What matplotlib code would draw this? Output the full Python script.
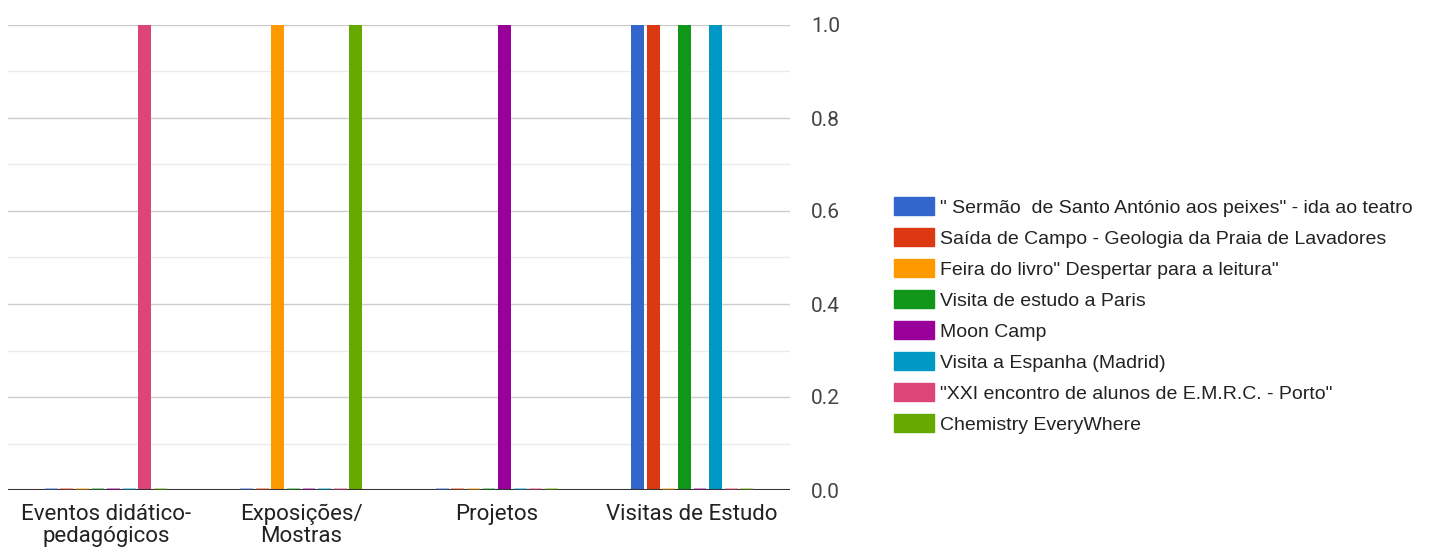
import matplotlib
matplotlib.use("Agg")
import matplotlib.pyplot as plt
import numpy as np
from matplotlib.patches import Patch

plt.rcParams['font.family'] = ['Roboto', 'DejaVu Sans']

categories = ["Eventos didático-\npedagógicos", "Exposições/\nMostras", "Projetos", "Visitas de Estudo"]
series_names = [
    "\" Sermão  de Santo António aos peixes\" - ida ao teatro",
    "Saída de Campo - Geologia da Praia de Lavadores",
    "Feira do livro\" Despertar para a leitura\"",
    "Visita de estudo a Paris",
    "Moon Camp",
    "Visita a Espanha (Madrid)",
    "\"XXI encontro de alunos de E.M.R.C. - Porto\"",
    "Chemistry EveryWhere",
]
sermao = [0, 0, 0, 1]
saida_campo = [0, 0, 0, 1]
feira_livro = [0, 1, 0, 0]
paris = [0, 0, 0, 1]
moon_camp = [0, 0, 1, 0]
espanha = [0, 0, 0, 1]
emrc = [1, 0, 0, 0]
chemistry = [0, 1, 0, 0]
series_values = [sermao, saida_campo, feira_livro, paris, moon_camp, espanha, emrc, chemistry]
colors = ["#3366cc", "#dc3912", "#ff9900", "#109618", "#990099", "#0099c6", "#dd4477", "#66aa00"]
yticks = [0.0, 0.2, 0.4, 0.6, 0.8, 1.0]

W, H = 1435, 554
fig = plt.figure(figsize=(W / 100, H / 100), dpi=100)
ax = fig.add_axes([8 / W, 64 / H, (790 - 8) / W, (490 - 25) / H])

x = np.arange(len(categories))
n = len(series_values)
slot = 0.0795
bw = 0.066
for i, (vals, c) in enumerate(zip(series_values, colors)):
    offs = (i - (n - 1) / 2) * slot
    for xi, v in zip(x, vals):
        if v > 0:
            ax.bar(xi + offs, v, width=bw, color=c, linewidth=0, zorder=3)
        else:
            ax.bar(xi + offs, 0.004, width=bw, color=c, alpha=0.4, linewidth=0, zorder=5)

ax.set_xlim(-0.5, len(categories) - 0.5)
ax.set_ylim(0, 1.0)
for s in ax.spines.values():
    s.set_visible(False)
ax.set_yticks(yticks)
ax.set_yticks(np.arange(0.1, 1.0, 0.2), minor=True)
ax.yaxis.tick_right()
ax.tick_params(axis='y', which='both', length=0, pad=15, labelsize=15, labelcolor="#444444")
ax.set_yticklabels([f"{t:.1f}" for t in yticks])
ax.grid(axis='y', which='major', color="#cccccc", linewidth=1, zorder=0)
ax.grid(axis='y', which='minor', color="#ebebeb", linewidth=1, zorder=0)
ax.axhline(0, color="#333333", linewidth=1.5, zorder=4)
ax.set_xticks(x)
ax.set_xticklabels(categories, fontsize=16, color="#222222", linespacing=1.05)
ax.tick_params(axis='x', length=0, pad=10)

handles = [Patch(facecolor=c, edgecolor=c) for c in colors]
fig.legend(handles, series_names, loc='upper left', bbox_to_anchor=(894 / W, 1 - 197 / H),
           frameon=False, handlelength=2.06, handleheight=1.03,
           labelspacing=0.59, handletextpad=0.31, borderpad=0, borderaxespad=0,
           labelcolor="#222222", prop={'family': ['Liberation Sans', 'DejaVu Sans'], 'size': 14})

fig.savefig("out.png", dpi=100)
